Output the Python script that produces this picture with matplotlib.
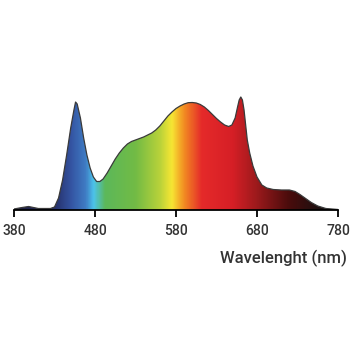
import matplotlib.pyplot as plt
import numpy as np
from matplotlib.colors import LinearSegmentedColormap
from matplotlib.patches import Polygon

# Relative spectral intensity
wavelength = [380, 390, 398, 410, 425, 430, 435, 440, 445, 450, 454, 456, 458,
              462, 466, 470, 474, 478, 482, 486, 490, 495, 500, 505, 510, 515,
              520, 525, 530, 535, 540, 545, 550, 555, 560, 565, 570, 575, 580,
              585, 590, 595, 600, 605, 610, 615, 620, 625, 630, 635, 640, 645,
              649, 653, 656, 658, 660, 662, 664, 666, 668, 671, 675, 680, 686,
              692, 700, 710, 720, 727, 733, 740, 747, 755, 765, 780]
intensity = [1, 2.5, 3.5, 1.5, 1.5, 3, 12, 30, 55, 82, 100, 108, 106,
             92, 72, 55, 42, 33, 28.5, 28.5, 31, 37, 44, 51, 57, 62,
             66, 68.5, 70, 71.5, 73, 75, 77, 80, 84, 89, 94, 98, 101.5,
             104, 106, 107.3, 107.5, 107, 105.5, 103, 99.5, 95.5, 91.5, 88, 85, 83.5,
             85, 92, 103, 110, 113, 110, 100, 85, 70, 57, 44, 33, 25,
             22, 20.5, 20, 20, 18.5, 15.5, 11.5, 7.5, 4, 1.5, 0.5]

tick_values = [380, 480, 580, 680, 780]

# colour stops along the wavelength axis
stop_nm = [380, 430, 450, 468, 478, 492, 530, 560, 575, 590, 612, 650, 680, 720, 760, 780]
stop_col = ['#1c1c3c', '#26306a', '#3454a2', '#3f7cc4', '#4cc4ec', '#5cb85a',
            '#72bb45', '#b8d23a', '#f7e633', '#f28c22', '#e52a2a', '#d61f26',
            '#9c1a1c', '#4a0c0c', '#1a1010', '#151010']

fig = plt.figure(figsize=(3.6, 3.6), dpi=100)
ax = fig.add_axes([14 / 360, 150 / 360, 324 / 360, 120 / 360])
ax.set_xlim(380, 780)
ax.set_ylim(0, 120)

pos = [(v - 380) / 400 for v in stop_nm]
cmap = LinearSegmentedColormap.from_list('spec', list(zip(pos, stop_col)))
grad = np.linspace(0, 1, 800).reshape(1, -1)
img = ax.imshow(grad, cmap=cmap, aspect='auto', extent=[380, 780, 0, 120],
                interpolation='bilinear', zorder=1)

verts = list(zip(wavelength, intensity)) + [(780, 0), (380, 0)]
clip = Polygon(verts, closed=True, transform=ax.transData, facecolor='none', edgecolor='none')
ax.add_patch(clip)
img.set_clip_path(clip)

ax.plot(wavelength, intensity, color='#3a3a3a', lw=0.9, zorder=2)

for s in ['top', 'right', 'left']:
    ax.spines[s].set_visible(False)
ax.spines['bottom'].set_linewidth(1.3)
ax.spines['bottom'].set_zorder(3)
ax.set_yticks([])
ax.set_xticks(tick_values)
ax.set_xticks([380, 780], minor=True)
ax.tick_params(axis='x', which='major', direction='out', length=5, width=1.3,
               pad=5, labelsize=10, labelcolor='#333333')
ax.tick_params(axis='x', which='minor', direction='inout', length=14, width=1.3)
for lab in ax.get_xticklabels():
    lab.set_family('Roboto')
    lab.set_weight('medium')

fig.text(347 / 360, 1 - 258 / 360, 'Wavelenght (nm)', ha='right', va='center',
         fontsize=12, color='#333333', family='Roboto', weight='medium')

fig.savefig('out.png', dpi=100)
